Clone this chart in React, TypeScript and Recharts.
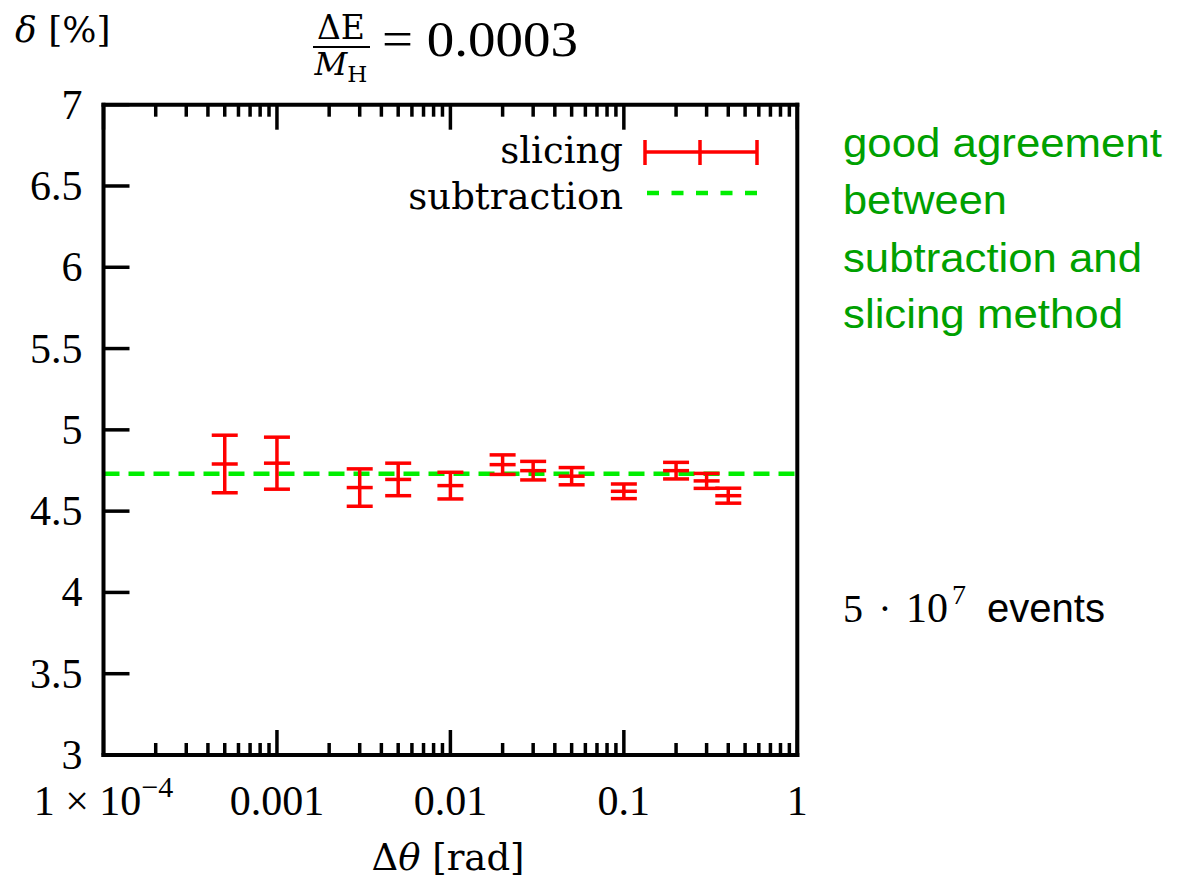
import React from "react";
import { ScatterChart, Scatter, XAxis, YAxis, ErrorBar, ReferenceLine, Legend } from "recharts";

// Δθ values where the slicing method was evaluated
const angles = [0.0005, 0.001, 0.003, 0.005, 0.01, 0.02, 0.03, 0.05, 0.1, 0.2, 0.3, 0.4];
// δ [%] from slicing and its statistical error
const slicing = [4.79, 4.795, 4.645, 4.695, 4.657, 4.786, 4.749, 4.715, 4.622, 4.749, 4.686, 4.595];
const slicingErr = [0.177, 0.16, 0.115, 0.1, 0.082, 0.06, 0.057, 0.053, 0.045, 0.051, 0.046, 0.046];
// subtraction result (flat in Δθ)
const subtraction = 4.73;

const xMajor = [1e-4, 1e-3, 1e-2, 1e-1, 1];
const xMajorLabels = ["1e-4", "0.001", "0.01", "0.1", "1"];
const xMinor = [1e-4, 1e-3, 1e-2, 1e-1].flatMap((d) => [2, 3, 4, 5, 6, 7, 8, 9].map((k) => k * d));
const xTicks = [...xMajor, ...xMinor];
const yTicks = [3, 3.5, 4, 4.5, 5, 5.5, 6, 6.5, 7];

const data = angles.map((a, i) => ({ angle: a, delta: slicing[i], err: slicingErr[i] }));

const NUM = "'Liberation Serif', serif";
const WORD = "'DejaVu Serif', serif";
const SANS = "'Liberation Sans', Arial, sans-serif";
const RED = "#ff0000";
const LIME = "#00ee00";
const GREEN = "#00a000";

const W = 1170;
const H = 868;

const majorIndex = (v) => xMajor.findIndex((m) => Math.abs(Math.log10(m) - Math.log10(v)) < 1e-6);

const BottomTick = ({ x, y, payload }) => {
  const idx = majorIndex(payload.value);
  const major = idx >= 0;
  return (
    <g>
      <line x1={x} x2={x} y1={y} y2={y - (major ? 25 : 12)} stroke="#000" strokeWidth={3.5} />
      {major && idx === 0 && (
        <text x={x} y={y + 60} textAnchor="middle" fontFamily={NUM} fontSize={42} fill="#000">
          1 × 10
          <tspan dy={-18} fontSize={30}>−4</tspan>
        </text>
      )}
      {major && idx > 0 && (
        <text x={x} y={y + 60} textAnchor="middle" fontFamily={NUM} fontSize={42} fill="#000">
          {xMajorLabels[idx]}
        </text>
      )}
    </g>
  );
};

const TopTick = ({ x, y, payload }) => {
  const major = majorIndex(payload.value) >= 0;
  return <line x1={x} x2={x} y1={y} y2={y + (major ? 25 : 12)} stroke="#000" strokeWidth={3.5} />;
};

const LeftTick = ({ x, y, payload }) => (
  <g>
    <line x1={x} x2={x + 26} y1={y} y2={y} stroke="#000" strokeWidth={3.5} />
    <text x={x - 21} y={y + 14} textAnchor="end" fontFamily={NUM} fontSize={42} fill="#000">
      {payload.value}
    </text>
  </g>
);

const RightTick = ({ x, y }) => <line x1={x} x2={x - 26} y1={y} y2={y} stroke="#000" strokeWidth={3.5} />;

const frame = { stroke: "#000", strokeWidth: 4, strokeLinecap: "square" };

const Marker = (props) => {
  const { cx, cy } = props;
  return <line x1={cx - 13} x2={cx + 13} y1={cy} y2={cy} stroke={RED} strokeWidth={3.5} />;
};

const KeyBox = () => (
  <svg width={380} height={95}>
    <text x={235} y={35} textAnchor="end" fontFamily={WORD} fontSize={37} fill="#000">slicing</text>
    <line x1={257} x2={369} y1={24} y2={24} stroke={RED} strokeWidth={3.5} />
    <line x1={257} x2={257} y1={12} y2={37} stroke={RED} strokeWidth={3.5} />
    <line x1={312} x2={312} y1={12} y2={37} stroke={RED} strokeWidth={3.5} />
    <line x1={369} x2={369} y1={12} y2={37} stroke={RED} strokeWidth={3.5} />
    <text x={235} y={81} textAnchor="end" fontFamily={WORD} fontSize={37} fill="#000">subtraction</text>
    <line x1={259} x2={369} y1={65} y2={65} stroke={LIME} strokeWidth={4.5} strokeDasharray="12 12.5" />
  </svg>
);

export default function App() {
  return (
    <div style={{ position: "relative", width: W, height: H }}>
      <ScatterChart width={W} height={H} margin={{ top: 95.7, right: 379.7, bottom: 61, left: 35.5 }}>
        <XAxis
          xAxisId="bottom"
          dataKey="angle"
          type="number"
          scale="log"
          domain={[1e-4, 1]}
          allowDataOverflow
          ticks={xTicks}
          interval={0}
          height={60}
          tickSize={0}
          tickMargin={0}
          tickLine={false}
          axisLine={frame}
          tick={BottomTick}
        />
        <XAxis
          xAxisId="top"
          orientation="top"
          dataKey="angle"
          type="number"
          scale="log"
          domain={[1e-4, 1]}
          allowDataOverflow
          ticks={xTicks}
          interval={0}
          height={1}
          tickSize={0}
          tickMargin={0}
          tickLine={false}
          axisLine={frame}
          tick={TopTick}
        />
        <YAxis
          yAxisId="left"
          type="number"
          domain={[3, 7]}
          ticks={yTicks}
          interval={0}
          width={60}
          tickSize={0}
          tickMargin={0}
          tickLine={false}
          axisLine={frame}
          tick={LeftTick}
        />
        <YAxis
          yAxisId="right"
          orientation="right"
          type="number"
          domain={[3, 7]}
          ticks={yTicks}
          interval={0}
          width={1}
          tickSize={0}
          tickMargin={0}
          tickLine={false}
          axisLine={frame}
          tick={RightTick}
        />
        <ReferenceLine
          xAxisId="bottom"
          yAxisId="left"
          y={subtraction}
          stroke={LIME}
          strokeWidth={4.5}
          strokeDasharray="16 9"
        />
        <Scatter
          name="slicing"
          data={data}
          xAxisId="bottom"
          yAxisId="left"
          dataKey="delta"
          shape={Marker}
          isAnimationActive={false}
        >
          <ErrorBar dataKey="err" direction="y" width={13} stroke={RED} strokeWidth={3.5} isAnimationActive={false} />
        </Scatter>
        <Legend
          layout="horizontal"
          verticalAlign="middle"
          align="center"
          content={KeyBox}
          wrapperStyle={{ left: 380, top: 120, width: 380, height: 95 }}
        />
      </ScatterChart>
      <svg
        width={W}
        height={H + 8}
        style={{ position: "absolute", left: 0, top: 0, pointerEvents: "none" }}
      >
        <text x={7} y={34} fontFamily={WORD} fontSize={36} fill="#000">
          <tspan fontStyle="italic">δ</tspan> [%]
        </text>
        <text x={333} y={31} textAnchor="middle" fontFamily={WORD} fontSize={33} fill="#000">ΔE</text>
        <line x1={305} x2={362} y1={39} y2={39} stroke="#000" strokeWidth={2} />
        <text x={333} y={67} textAnchor="middle" fontFamily={WORD} fontSize={32} fill="#000">
          <tspan fontStyle="italic">M</tspan>
          <tspan dy={7} fontSize={23}>H</tspan>
        </text>
        <text x={374} y={48} fontFamily={NUM} fontSize={50} fill="#000" textLength={196} lengthAdjust="spacingAndGlyphs">
          = 0.0003
        </text>
        <text x={440} y={862} textAnchor="middle" fontFamily={WORD} fontSize={37} fill="#000">
          Δ<tspan fontStyle="italic">θ</tspan> [rad]
        </text>
        <g fontFamily={SANS} fontSize={41} fill={GREEN}>
          <text x={835} y={149} textLength={319} lengthAdjust="spacingAndGlyphs">good agreement</text>
          <text x={835} y={206} textLength={164} lengthAdjust="spacingAndGlyphs">between</text>
          <text x={835} y={264} textLength={299} lengthAdjust="spacingAndGlyphs">subtraction and</text>
          <text x={835} y={320} textLength={280} lengthAdjust="spacingAndGlyphs">slicing method</text>
        </g>
        <g fontFamily={NUM} fill="#000">
          <text x={835} y={614} fontSize={40}>5</text>
          <text x={877} y={614} fontSize={40} textAnchor="middle">·</text>
          <text x={898} y={614} fontSize={42}>10</text>
          <text x={944} y={596} fontSize={28}>7</text>
        </g>
        <text x={979} y={614} fontFamily={SANS} fontSize={40} fill="#000" textLength={118} lengthAdjust="spacingAndGlyphs">
          events
        </text>
      </svg>
    </div>
  );
}
